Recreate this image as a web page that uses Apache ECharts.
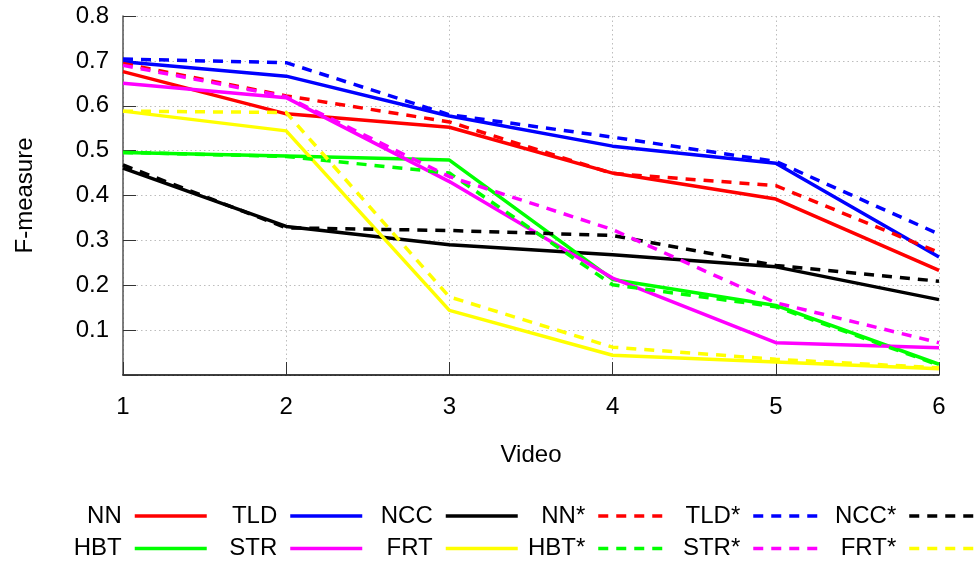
<!DOCTYPE html>
<html>
<head>
<meta charset="utf-8">
<script src="https://cdn.jsdelivr.net/npm/echarts@6/dist/echarts.min.js"></script>
<style>
html,body{margin:0;padding:0;background:#fff;}
#chart{width:976px;height:565px;}
</style>
</head>
<body>
<div id="chart"></div>
<script>
// Data
var videos = [1, 2, 3, 4, 5, 6];
var yTicks = [0.1, 0.2, 0.3, 0.4, 0.5, 0.6, 0.7, 0.8];

var NN      = [0.676, 0.582, 0.552, 0.450, 0.392, 0.233];
var TLD     = [0.698, 0.666, 0.577, 0.510, 0.472, 0.263];
var NCC     = [0.461, 0.331, 0.290, 0.268, 0.241, 0.168];
var HBT     = [0.496, 0.488, 0.479, 0.213, 0.155, 0.024];
var STR     = [0.650, 0.618, 0.431, 0.216, 0.072, 0.061];
var FRT     = [0.588, 0.544, 0.144, 0.044, 0.029, 0.014];
var NN_s    = [0.694, 0.622, 0.564, 0.449, 0.422, 0.273];
var TLD_s   = [0.704, 0.696, 0.580, 0.530, 0.476, 0.314];
var NCC_s   = [0.468, 0.328, 0.322, 0.311, 0.244, 0.209];
var HBT_s   = [0.496, 0.487, 0.450, 0.201, 0.152, 0.022];
var STR_s   = [0.690, 0.620, 0.442, 0.324, 0.161, 0.072];
var FRT_s   = [0.588, 0.585, 0.174, 0.062, 0.035, 0.016];

var seriesDefs = [
  {name: 'NN',   data: NN,    color: '#ff0000', dashed: false},
  {name: 'TLD',  data: TLD,   color: '#0000ff', dashed: false},
  {name: 'NCC',  data: NCC,   color: '#000000', dashed: false},
  {name: 'HBT',  data: HBT,   color: '#00ff00', dashed: false},
  {name: 'STR',  data: STR,   color: '#ff00ff', dashed: false},
  {name: 'FRT',  data: FRT,   color: '#ffff00', dashed: false},
  {name: 'NN*',  data: NN_s,  color: '#ff0000', dashed: true},
  {name: 'TLD*', data: TLD_s, color: '#0000ff', dashed: true},
  {name: 'NCC*', data: NCC_s, color: '#000000', dashed: true},
  {name: 'HBT*', data: HBT_s, color: '#00ff00', dashed: true},
  {name: 'STR*', data: STR_s, color: '#ff00ff', dashed: true},
  {name: 'FRT*', data: FRT_s, color: '#ffff00', dashed: true}
];

var legendColumns = [
  {names: ['NN', 'HBT'],     iconRight: 208.5},
  {names: ['TLD', 'STR'],    iconRight: 364},
  {names: ['NCC', 'FRT'],    iconRight: 519.5},
  {names: ['NN*', 'HBT*'],   iconRight: 672},
  {names: ['TLD*', 'STR*'],  iconRight: 827},
  {names: ['NCC*', 'FRT*'],  iconRight: 983}
];

var FONT = "'Liberation Sans', Arial, sans-serif";
var W = 976;

var chart = echarts.init(document.getElementById('chart'), null, {renderer: 'canvas'});

var series = seriesDefs.map(function (s) {
  return {
    name: s.name,
    type: 'line',
    data: videos.map(function (v, i) { return [v, s.data[i]]; }),
    symbol: 'none',
    showSymbol: false,
    color: s.color,
    lineStyle: {color: s.color, width: 3.5, type: s.dashed ? [10, 8] : 'solid'},
    emphasis: {disabled: true},
    animation: false
  };
});

var legends = legendColumns.map(function (c) {
  return {
    data: c.names,
    orient: 'vertical',
    align: 'right',
    right: W - c.iconRight,
    top: 504,
    padding: 0,
    itemGap: 8.5,
    itemWidth: 72,
    itemHeight: 14,
    selectedMode: false,
    itemStyle: {opacity: 0, borderWidth: 0},
    lineStyle: {width: 3.5},
    textStyle: {fontFamily: FONT, fontSize: 24, color: '#000', padding: [0, 8, 0, 0]}
  };
});

chart.setOption({
  animation: false,
  backgroundColor: '#fff',
  grid: {left: 123, right: 37, top: 16, bottom: 190, containLabel: false},
  legend: legends,
  xAxis: {
    type: 'value',
    min: 1, max: 6, interval: 1,
    name: 'Video',
    nameLocation: 'middle',
    nameGap: 68,
    nameTextStyle: {fontFamily: FONT, fontSize: 24, color: '#000'},
    axisLine: {show: true, lineStyle: {color: '#000', width: 1.5}},
    axisTick: {show: true, inside: true, length: 13, lineStyle: {color: '#333', width: 1}},
    axisLabel: {fontFamily: FONT, fontSize: 24, color: '#000', margin: 20},
    splitLine: {show: true, lineStyle: {color: '#bdbdbd', width: 1, type: [1.5, 3]}}
  },
  yAxis: {
    type: 'value',
    min: 0, max: 0.8, interval: 0.1,
    name: 'F-measure',
    nameLocation: 'middle',
    nameRotate: 90,
    nameGap: 86,
    nameTextStyle: {fontFamily: FONT, fontSize: 24, color: '#000'},
    axisLine: {show: true, lineStyle: {color: '#555', width: 1.5}},
    axisTick: {show: true, inside: true, length: 13, lineStyle: {color: '#333', width: 1}},
    axisLabel: {
      fontFamily: FONT, fontSize: 24, color: '#000', margin: 14,
      formatter: function (v) {
        var r = Math.round(v * 10) / 10;
        return yTicks.indexOf(r) >= 0 ? r.toFixed(1) : '';
      }
    },
    splitLine: {show: true, lineStyle: {color: '#bdbdbd', width: 1, type: [1.5, 3]}}
  },
  series: series
});
</script>
</body>
</html>
